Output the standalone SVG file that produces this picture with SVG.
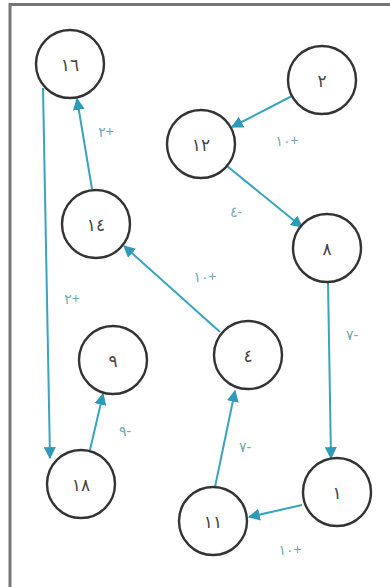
<svg xmlns="http://www.w3.org/2000/svg" width="390" height="587" viewBox="0 0 390 587">
<style>
.node circle{fill:#fff;stroke:#333;stroke-width:2.4}
.node text{font-family:"Noto Sans","DejaVu Sans",sans-serif;font-size:17px;fill:#444;text-anchor:middle;dominant-baseline:central;direction:ltr;unicode-bidi:embed}
.edge{stroke:#3aa3bf;stroke-width:2;fill:none;marker-end:url(#arr)}
.lbl{font-family:"Noto Sans","DejaVu Sans",sans-serif;font-size:14px;fill:#6fa9b5;text-anchor:middle;dominant-baseline:central;direction:ltr;unicode-bidi:embed}
</style>
<defs>
<marker id="arr" viewBox="0 0 10 10" refX="9" refY="5" markerWidth="6" markerHeight="6" orient="auto" markerUnits="strokeWidth">
<path d="M0,0 L10,5 L0,10 z" fill="#2e9ab8"/>
</marker>
</defs>
<rect x="0" y="0" width="390" height="587" fill="#fff"/>
<path d="M10,587 V4.5 H390" fill="none" stroke="#777" stroke-width="3"/>
<g id="connectors">
<line class="edge" x1="292" y1="96" x2="232" y2="127"/>
<line class="edge" x1="227" y1="166" x2="302" y2="227"/>
<line class="edge" x1="328" y1="282" x2="331" y2="458"/>
<line class="edge" x1="302" y1="505" x2="249" y2="517"/>
<line class="edge" x1="215" y1="487" x2="235" y2="391"/>
<line class="edge" x1="220" y1="332" x2="124" y2="246"/>
<line class="edge" x1="92" y1="189" x2="77" y2="99"/>
<line class="edge" x1="43" y1="88" x2="50" y2="458"/>
<line class="edge" x1="90" y1="450" x2="103" y2="394"/>
<text class="lbl" x="287" y="140">١٠+</text>
<text class="lbl" x="236" y="211">٤-</text>
<text class="lbl" x="352" y="334">٧-</text>
<text class="lbl" x="290" y="549">١٠+</text>
<text class="lbl" x="245" y="446">٧-</text>
<text class="lbl" x="205" y="276">١٠+</text>
<text class="lbl" x="106" y="131">٢+</text>
<text class="lbl" x="72" y="298">٢+</text>
<text class="lbl" x="125" y="430">٩-</text>
</g>
<g id="n16" class="node"><circle cx="70" cy="64" r="34"/><text x="70" y="64">١٦</text></g>
<g id="n14" class="node"><circle cx="96" cy="224" r="34"/><text x="96" y="224">١٤</text></g>
<g id="n2" class="node"><circle cx="322" cy="80" r="34"/><text x="322" y="80">٢</text></g>
<g id="n12" class="node"><circle cx="201" cy="144" r="34"/><text x="201" y="144">١٢</text></g>
<g id="n8" class="node"><circle cx="327" cy="248" r="34"/><text x="327" y="248">٨</text></g>
<g id="n9" class="node"><circle cx="113" cy="360" r="34"/><text x="113" y="360">٩</text></g>
<g id="n18" class="node"><circle cx="81" cy="484" r="34"/><text x="81" y="484">١٨</text></g>
<g id="n4" class="node"><circle cx="248" cy="355" r="34"/><text x="248" y="355">٤</text></g>
<g id="n1" class="node"><circle cx="337" cy="492" r="34"/><text x="337" y="492">١</text></g>
<g id="n11" class="node"><circle cx="213" cy="521" r="34"/><text x="213" y="521">١١</text></g>
</svg>
